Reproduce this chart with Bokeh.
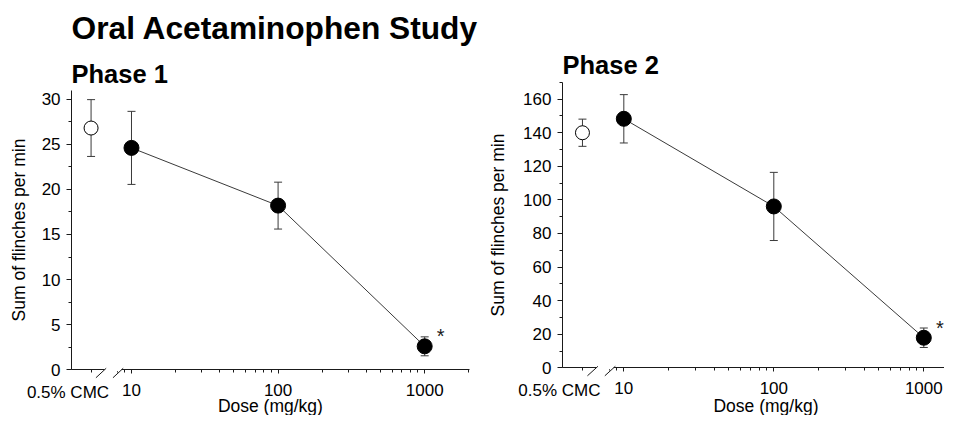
import math
from bokeh.plotting import figure
from bokeh.models import (ColumnDataSource, Whisker, TeeHead, Label, Arrow, FixedTicker,
                          SingleIntervalTicker, BasicTickFormatter, Range1d)
from bokeh.layouts import row
from bokeh.embed import file_html
from bokeh.resources import INLINE

# ---------------- data ----------------
TITLE = "Oral Acetaminophen Study"
PANEL_TITLES = ["Phase 1", "Phase 2"]
X_LABEL = "Dose (mg/kg)"
Y_LABEL = "Sum of flinches per min"
VEHICLE_LABEL = "0.5% CMC"

DOSES = [10, 100, 1000]
X_TICKS = [10, 100, 1000]
VEHICLE_X = 5.3
X_MINOR = [VEHICLE_X, 8, 9, 20, 30, 40, 50, 60, 70, 80, 90,
           200, 300, 400, 500, 600, 700, 800, 900, 2000]
X_AXIS = (3.9, 2014)          # extent of the drawn x axis
BREAKS = [6.2, 8.1]

P1_VEH_MEAN = 26.8
P1_VEH_SEM = 3.15
P1_MEAN = [24.6, 18.2, 2.6]
P1_SEM = [4.05, 2.6, 1.05]
P1_YMAX, P1_YSTEP = 31, 5

P2_VEH_MEAN = 140.0
P2_VEH_SEM = 8.1
P2_MEAN = [148.3, 96.1, 17.9]
P2_SEM = [14.4, 20.3, 5.8]
P2_YMAX, P2_YSTEP = 170, 20

SIGNIFICANT = [False, False, True]

FONT = "Liberation Sans"
INK = "#1a1a1a"
LINE = "#3a3a3a"
H = 415
TICK_FS = "17px"
AXIS_FS = "17.5px"


def make_panel(title, veh_mean, veh_sem, means, sems, y_max, y_step,
               x_range, y_range, frame_w, ylab_standoff, title_y):
    p = figure(frame_width=frame_w, frame_height=H, x_axis_type="log",
               x_range=Range1d(*x_range), y_range=Range1d(*y_range),
               output_backend="svg", toolbar_location=None,
               min_border_left=0, min_border_right=0,
               min_border_top=0, min_border_bottom=0)
    p.grid.visible = False
    p.outline_line_color = None
    p.background_fill_color = "white"
    p.border_fill_color = "white"

    # axes (drawn inside the frame at fixed positions)
    xa, ya = p.xaxis[0], p.yaxis[0]
    xa.ticker = FixedTicker(ticks=X_TICKS, minor_ticks=X_MINOR)
    xa.formatter = BasicTickFormatter(use_scientific=False)
    xa.fixed_location = 0
    xa.bounds = X_AXIS
    ya.ticker = SingleIntervalTicker(interval=y_step, num_minor_ticks=2)
    ya.fixed_location = X_AXIS[0]
    ya.bounds = (0, y_max)
    for ax in (xa, ya):
        ax.axis_line_color = INK
        ax.major_tick_line_color = INK
        ax.minor_tick_line_color = INK
        ax.major_tick_in = 0
        ax.minor_tick_in = 0
        ax.major_label_text_font = FONT
        ax.major_label_text_font_size = TICK_FS
        ax.major_label_text_color = "black"
        ax.axis_label_text_font = FONT
        ax.axis_label_text_font_size = AXIS_FS
        ax.axis_label_text_font_style = "normal"
        ax.axis_label_text_color = "black"
    xa.major_tick_out = 4
    xa.minor_tick_out = 3
    xa.major_label_standoff = 10
    ya.major_tick_out = 5
    ya.minor_tick_out = 3
    ya.major_label_standoff = 6
    ya.axis_label = Y_LABEL
    ya.axis_label_standoff = ylab_standoff

    ppu = H / (y_range[1] - y_range[0])  # pixels per data unit (vertical)
    axis_px_from_bottom = (0 - y_range[0]) * ppu

    # axis break: gap + two slashes
    p.add_layout(Arrow(end=None, x_start=BREAKS[0] * 10 ** 0.024, y_start=0,
                       x_end=BREAKS[1] * 10 ** 0.024, y_end=0,
                       line_color="white", line_width=3))
    for b in BREAKS:
        p.add_layout(Arrow(end=None, x_start=b * 10 ** -0.035, y_start=-8 / ppu,
                           x_end=b * 10 ** 0.035, y_end=1.5 / ppu,
                           line_color=INK, line_width=1))

    # error bars
    src = ColumnDataSource(dict(
        x=[VEHICLE_X] + DOSES,
        upper=[veh_mean + veh_sem] + [m + s for m, s in zip(means, sems)],
        lower=[veh_mean - veh_sem] + [m - s for m, s in zip(means, sems)],
    ))
    p.add_layout(Whisker(source=src, base="x", upper="upper", lower="lower",
                         dimension="height", level="underlay",
                         line_color=LINE, line_width=1,
                         upper_head=TeeHead(size=8, line_color=LINE, line_width=1),
                         lower_head=TeeHead(size=8, line_color=LINE, line_width=1)))

    # connecting line and markers
    p.line(DOSES, means, line_color=LINE, line_width=1)
    p.scatter(DOSES, means, size=15, fill_color="black", line_color="black")
    p.scatter([VEHICLE_X], [veh_mean], size=14, fill_color="white",
              line_color="black", line_width=1)

    # significance asterisks
    for d, m, s in zip(DOSES, means, SIGNIFICANT):
        if s:
            p.add_layout(Label(x=d, y=m, x_offset=16, y_offset=10, text="*",
                               text_font=FONT, text_font_size="20px",
                               text_align="center", text_baseline="middle",
                               text_color=INK))

    # vehicle tick label (on the tick-label line)
    p.add_layout(Label(x=VEHICLE_X, y=axis_px_from_bottom - 22.6, y_units="screen",
                       x_offset=18, text=VEHICLE_LABEL, text_font=FONT,
                       text_font_size=TICK_FS, text_align="right",
                       text_baseline="middle", text_color="black"))

    # x-axis title, centred under the drawn axis
    p.add_layout(Label(x=math.sqrt(X_AXIS[0] * X_AXIS[1]), y=10, y_units="screen",
                       text=X_LABEL, text_font=FONT, text_font_size=AXIS_FS,
                       text_align="center", text_baseline="middle",
                       text_color="black"))

    # panel title (left-aligned with the y axis)
    p.add_layout(Label(x=X_AXIS[0], y=title_y, y_units="screen",
                       text=title, text_font=FONT, text_font_size="25.5px",
                       text_font_style="bold", text_align="left",
                       text_baseline="middle", text_color="black"))
    return p


p1 = make_panel(PANEL_TITLES[0], P1_VEH_MEAN, P1_VEH_SEM, P1_MEAN, P1_SEM,
                P1_YMAX, P1_YSTEP, (1.2779, 2403), (-5.07, 40.94), 480, 10,
                H - 73.7)
p2 = make_panel(PANEL_TITLES[1], P2_VEH_MEAN, P2_VEH_SEM, P2_MEAN, P2_SEM,
                P2_YMAX, P2_YSTEP, (1.108, 1374), (-28.41, 218.76), 464, 12,
                H - 64.4)

p1.add_layout(Label(x=X_AXIS[0], y=H - 27, y_units="screen",
                    text=TITLE, text_font=FONT, text_font_size="31.7px",
                    text_font_style="bold", text_align="left",
                    text_baseline="middle", text_color="black"))

layout = row(p1, p2)
open("out.html", "w").write(file_html(layout, INLINE))
